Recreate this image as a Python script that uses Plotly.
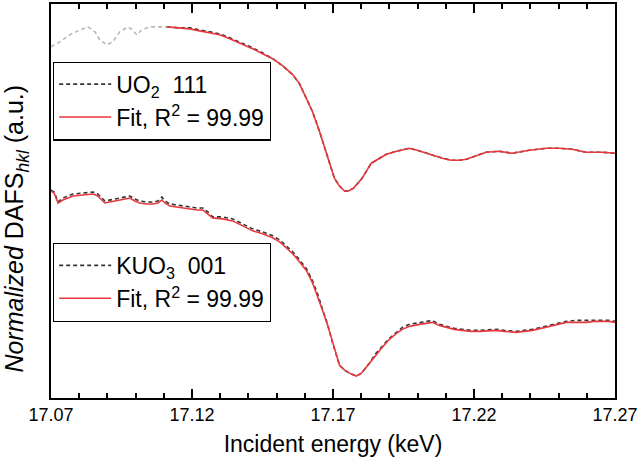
import plotly.graph_objects as go

# ---------------- data ----------------
# UO2 111 : pre-edge part of the measured data (shown in grey, not fitted)
uo2_pre_energy = [17.0700, 17.0732, 17.0767, 17.0803, 17.0831, 17.0856, 17.0873, 17.0898,
                  17.0919, 17.0944, 17.0973, 17.0990, 17.1004, 17.1022, 17.1050, 17.1079, 17.1111]
uo2_pre_signal = [3.53, 3.58, 3.65, 3.70, 3.73, 3.68, 3.60, 3.55,
                  3.58, 3.68, 3.73, 3.70, 3.65, 3.70, 3.73, 3.73, 3.73]

# UO2 111 : fitted range
uo2_energy = [17.1111, 17.1157, 17.1192, 17.1227, 17.1263, 17.1298, 17.1334, 17.1369, 17.1415, 17.1450,
              17.1486, 17.1521, 17.1557, 17.1581, 17.1606, 17.1627, 17.1652, 17.1673, 17.1688, 17.1705,
              17.1723, 17.1741, 17.1755, 17.1773, 17.1801, 17.1836, 17.1865, 17.1889, 17.1925, 17.1971,
              17.1999, 17.2031, 17.2059, 17.2088, 17.2119, 17.2148, 17.2173, 17.2194, 17.2243, 17.2289,
              17.2335, 17.2396, 17.2456, 17.2502, 17.2548, 17.2597, 17.2654, 17.2700]
uo2_data = [3.73, 3.72, 3.72, 3.70, 3.68, 3.66, 3.62, 3.58, 3.52, 3.47,
            3.41, 3.34, 3.25, 3.16, 3.01, 2.88, 2.68, 2.48, 2.36, 2.21,
            2.13, 2.08, 2.08, 2.11, 2.20, 2.36, 2.41, 2.45, 2.48, 2.51,
            2.49, 2.46, 2.43, 2.41, 2.39, 2.39, 2.40, 2.42, 2.47, 2.48,
            2.46, 2.49, 2.51, 2.51, 2.50, 2.47, 2.47, 2.46]
uo2_fit = [3.73, 3.72, 3.71, 3.69, 3.67, 3.65, 3.61, 3.57, 3.51, 3.46,
           3.41, 3.34, 3.25, 3.16, 3.01, 2.88, 2.68, 2.48, 2.36, 2.21,
           2.13, 2.08, 2.08, 2.11, 2.20, 2.36, 2.41, 2.45, 2.48, 2.51,
           2.49, 2.46, 2.43, 2.41, 2.39, 2.39, 2.40, 2.42, 2.47, 2.48,
           2.46, 2.49, 2.51, 2.51, 2.50, 2.47, 2.47, 2.46]

# KUO3 001
kuo3_energy = [17.0700, 17.0711, 17.0725, 17.0742, 17.0778, 17.0813, 17.0849, 17.0866, 17.0891, 17.0927,
               17.0962, 17.0980, 17.0997, 17.1015, 17.1040, 17.1061, 17.1079, 17.1093, 17.1104, 17.1121,
               17.1146, 17.1167, 17.1192, 17.1217, 17.1238, 17.1256, 17.1273, 17.1309, 17.1344, 17.1380,
               17.1415, 17.1450, 17.1486, 17.1511, 17.1535, 17.1557, 17.1581, 17.1606, 17.1627, 17.1645,
               17.1663, 17.1681, 17.1698, 17.1712, 17.1723, 17.1741, 17.1758, 17.1783, 17.1801, 17.1815,
               17.1829, 17.1850, 17.1875, 17.1900, 17.1925, 17.1946, 17.1971, 17.2006, 17.2052, 17.2077,
               17.2102, 17.2130, 17.2158, 17.2190, 17.2219, 17.2254, 17.2279, 17.2307, 17.2350, 17.2378,
               17.2406, 17.2438, 17.2466, 17.2495, 17.2527, 17.2562, 17.2597, 17.2626, 17.2654, 17.2679,
               17.2700]
kuo3_data = [2.09, 2.07, 1.97, 2.01, 2.05, 2.06, 2.07, 2.05, 1.98, 2.00,
             2.02, 2.03, 2.00, 1.98, 1.97, 1.97, 1.98, 2.02, 1.98, 1.95,
             1.94, 1.93, 1.92, 1.91, 1.91, 1.87, 1.82, 1.82, 1.80, 1.75,
             1.70, 1.67, 1.63, 1.59, 1.53, 1.47, 1.39, 1.30, 1.18, 1.05,
             0.89, 0.74, 0.56, 0.43, 0.33, 0.28, 0.25, 0.22, 0.25, 0.30,
             0.35, 0.44, 0.52, 0.60, 0.66, 0.71, 0.74, 0.76, 0.78, 0.74,
             0.72, 0.70, 0.69, 0.68, 0.68, 0.69, 0.69, 0.68, 0.67, 0.68,
             0.69, 0.71, 0.73, 0.75, 0.77, 0.78, 0.78, 0.78, 0.78, 0.78,
             0.77]
kuo3_fit = [2.08, 2.06, 1.96, 1.99, 2.03, 2.04, 2.05, 2.03, 1.96, 1.98,
            2.00, 2.01, 1.98, 1.96, 1.95, 1.95, 1.96, 1.99, 1.96, 1.93,
            1.92, 1.91, 1.90, 1.89, 1.89, 1.85, 1.81, 1.80, 1.78, 1.73,
            1.68, 1.65, 1.61, 1.57, 1.51, 1.45, 1.37, 1.28, 1.16, 1.03,
            0.88, 0.73, 0.56, 0.43, 0.33, 0.28, 0.25, 0.22, 0.25, 0.30,
            0.35, 0.43, 0.51, 0.59, 0.65, 0.69, 0.72, 0.74, 0.76, 0.73,
            0.71, 0.69, 0.68, 0.67, 0.67, 0.68, 0.68, 0.67, 0.66, 0.67,
            0.68, 0.70, 0.72, 0.74, 0.76, 0.76, 0.76, 0.77, 0.77, 0.77,
            0.76]

x_tick_vals = [17.07, 17.12, 17.17, 17.22, 17.27]
x_tick_text = ["17.07", "17.12", "17.17", "17.22", "17.27"]

# ---------------- styling ----------------
FONT = "Liberation Sans, Arial, sans-serif"
RED = "#e8383d"
DASH_BLACK = "#333333"
GREY = "#b8b8b8"

fig = go.Figure()

fig.add_trace(go.Scatter(x=uo2_pre_energy, y=uo2_pre_signal, mode="lines",
                         line=dict(color=GREY, width=1.6, dash="4px,3px"),
                         showlegend=False, hoverinfo="skip"))
fig.add_trace(go.Scatter(x=uo2_energy, y=uo2_data, mode="lines",
                         name="UO<sub>2</sub>  111",
                         line=dict(color=DASH_BLACK, width=1.6, dash="4px,3px"),
                         legend="legend"))
fig.add_trace(go.Scatter(x=uo2_energy, y=uo2_fit, mode="lines",
                         name="Fit, R<sup>2</sup> = 99.99",
                         line=dict(color=RED, width=1.6), legend="legend"))

fig.add_trace(go.Scatter(x=kuo3_energy, y=kuo3_data, mode="lines",
                         name="KUO<sub>3</sub>  001",
                         line=dict(color=DASH_BLACK, width=1.6, dash="4px,3px"),
                         legend="legend2"))
fig.add_trace(go.Scatter(x=kuo3_energy, y=kuo3_fit, mode="lines",
                         name="Fit, R<sup>2</sup> = 99.99",
                         line=dict(color=RED, width=1.6), legend="legend2"))

legend_style = dict(
    bgcolor="white", bordercolor="black", borderwidth=1.2,
    font=dict(family=FONT, size=23, color="black"),
    xanchor="left", yanchor="top", itemwidth=52,
    tracegroupgap=0, traceorder="normal",
)

fig.update_layout(
    width=640, height=470,
    margin=dict(l=51, r=24, t=2, b=72),
    paper_bgcolor="white", plot_bgcolor="white",
    font=dict(family=FONT, color="black"),
    legend=dict(x=0.0035, y=0.854, **legend_style),
    legend2=dict(x=0.0035, y=0.394, **legend_style),
    xaxis=dict(
        range=[17.07, 17.27], tickmode="array", tickvals=x_tick_vals, ticktext=x_tick_text,
        ticks="inside", ticklen=9, tickwidth=1.5, tickcolor="black",
        minor=dict(dtick=0.01, ticks="inside", ticklen=5, tickwidth=1.5, tickcolor="black"),
        showline=True, linecolor="black", linewidth=1.5, mirror="ticks",
        showgrid=False, zeroline=False,
        tickfont=dict(family=FONT, size=18, color="black"),
        title=dict(text="Incident energy (keV)", font=dict(family=FONT, size=23, color="black"),
                   standoff=12),
    ),
    xaxis2=dict(
        overlaying="x", anchor="y", side="bottom", matches="x", range=[17.07, 17.27],
        tickmode="array", tickvals=x_tick_vals, showticklabels=False,
        ticks="outside", ticklen=7, tickwidth=1.5, tickcolor="black",
        minor=dict(dtick=0.01, ticks="outside", ticklen=4, tickwidth=1.5, tickcolor="black"),
        showline=False, showgrid=False, zeroline=False,
    ),
    yaxis=dict(
        range=[0, 3.96], showticklabels=False, ticks="",
        showline=True, linecolor="black", linewidth=1.5, mirror=True,
        showgrid=False, zeroline=False,
    ),
    annotations=[dict(
        text="<i>Normalized</i> DAFS<sub><i>hkl</i></sub> (a.u.)",
        xref="paper", yref="paper", x=-0.062, y=0.43, textangle=-90,
        showarrow=False, font=dict(family=FONT, size=25, color="black"),
        xanchor="center", yanchor="middle",
    )],
)

fig.write_html("out.html",
               config={"displayModeBar": False},
               post_script="document.body.style.margin='0px';document.body.style.padding='0px';")
